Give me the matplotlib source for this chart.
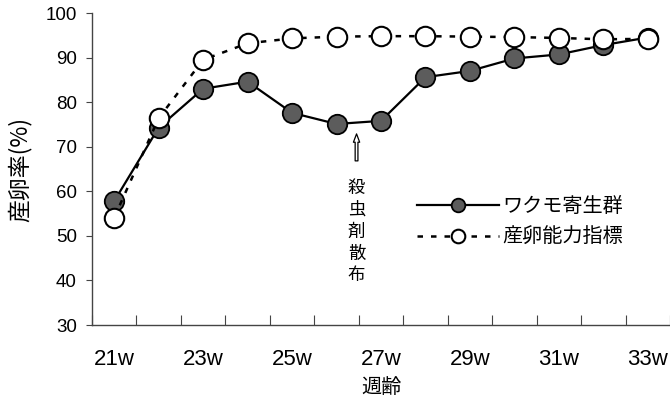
'''Egg-laying rate by week of age: mite-infested flock vs laying-ability index'''
import matplotlib
matplotlib.use('Agg')
import matplotlib.pyplot as plt

weeks = ['21w', '22w', '23w', '24w', '25w', '26w', '27w',
         '28w', '29w', '30w', '31w', '32w', '33w']
mite_flock = [57.8, 74.3, 83.0, 84.6, 77.6, 75.1, 75.8,
              85.6, 87.0, 89.8, 90.7, 92.8, 94.5]
laying_index = [54.1, 76.4, 89.5, 93.2, 94.3, 94.7, 94.8,
                94.8, 94.7, 94.6, 94.4, 94.1, 94.2]
spray_pos = 5.45  # between 26w and 27w

JP = ['Noto Sans CJK JP', 'DejaVu Sans']
NUM = 'Liberation Sans'
AXIS_COLOR = '#444444'

fig = plt.figure(figsize=(6.7, 4.05), dpi=100)
ax = fig.add_axes([92 / 670, 1 - 325 / 405, 578 / 670, 312 / 405])

x = list(range(len(weeks)))
ax.plot(x, mite_flock, color='black', lw=1.6, marker='o', ms=14,
        mfc='#5c5c5c', mec='black', mew=1.3, label='ワクモ寄生群', zorder=3)
ax.plot(x, laying_index, color='black', lw=1.8, ls=(0, (2.2, 3.2)), marker='o',
        ms=14, mfc='white', mec='black', mew=1.5, label='産卵能力指標', zorder=4)

ax.set_xlim(-0.5, len(weeks) - 0.5)
ax.set_ylim(30, 100)
ax.set_yticks(range(30, 101, 10))
for lbl in ax.get_yticklabels():
    lbl.set_fontfamily(NUM)
    lbl.set_fontsize(13.5)
ax.tick_params(axis='y', direction='out', length=4, width=0.8,
               color=AXIS_COLOR, pad=7)

# category axis: ticks between categories, labels on every other week
ax.set_xticks([i - 0.5 for i in range(len(weeks) + 1)])
ax.set_xticklabels([])
ax.tick_params(axis='x', which='major', direction='in', length=7,
               width=0.8, color=AXIS_COLOR)
ax.set_xticks(x[::2], minor=True)
ax.set_xticklabels(weeks[::2], minor=True, fontfamily=NUM, fontsize=16)
ax.tick_params(axis='x', which='minor', length=0, pad=17)

for side in ['top', 'right']:
    ax.spines[side].set_visible(False)
for side in ['left', 'bottom']:
    ax.spines[side].set_color(AXIS_COLOR)
    ax.spines[side].set_linewidth(1.0)

ax.set_ylabel('産卵率(%)', fontfamily=JP, fontsize=16.5, labelpad=10)
ax.set_xlabel('週齢', fontfamily=JP, fontsize=14.5, labelpad=5)

# insecticide spray marker
ax.annotate('', xy=(spray_pos, 73.5), xytext=(spray_pos, 66.2),
            arrowprops=dict(arrowstyle='simple,head_width=0.45,head_length=0.6,'
                                       'tail_width=0.2',
                            fc='white', ec='black', lw=0.9))
ax.text(spray_pos, 62.8, '\n'.join('殺虫剤散布'), ha='center', va='top',
        fontfamily=JP, fontsize=12.5, linespacing=1.28)

leg = ax.legend(loc='center left', bbox_to_anchor=(0.562, 0.33),
                frameon=False, borderpad=0, borderaxespad=0,
                handlelength=4.1, handletextpad=0.15, labelspacing=0.5,
                markerscale=0.7, prop={'family': JP, 'size': 14.5})

fig.savefig('out.png', dpi=100)
